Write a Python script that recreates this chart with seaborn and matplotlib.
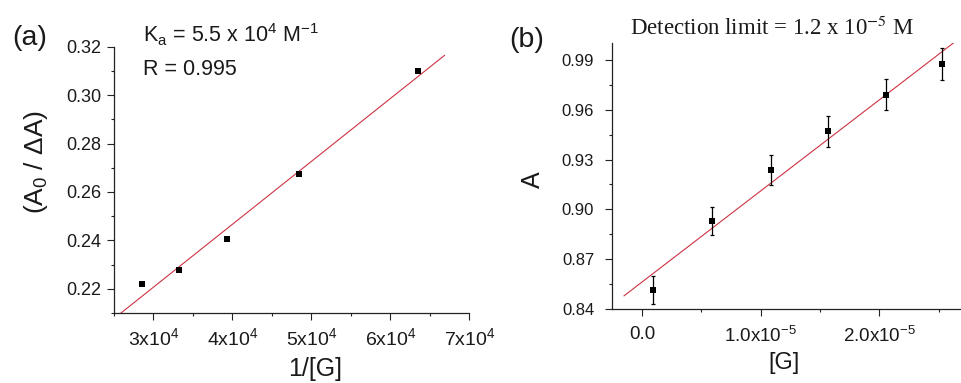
import numpy as np
import pandas as pd
import matplotlib
matplotlib.use("Agg")
import matplotlib.pyplot as plt
import seaborn as sns
from matplotlib.ticker import FixedLocator, MultipleLocator

# ---------------- data ----------------
inv_G = [28600, 33170, 39330, 48480, 63460]
ratio = [0.2218, 0.2276, 0.2404, 0.2675, 0.3098]
fit_range_a = [25000, 66880]

G_conc = [0.093e-5, 0.592e-5, 1.084e-5, 1.567e-5, 2.056e-5, 2.525e-5]
absorb = [0.8514, 0.8929, 0.9237, 0.9469, 0.9690, 0.9878]
abs_err = [0.0085, 0.0086, 0.0090, 0.0093, 0.0094, 0.0096]
fit_range_b = [-0.152e-5, 2.628e-5]

xticks_a = [30000, 40000, 50000, 60000, 70000]
xticklabels_a = ["3x10$^{4}$", "4x10$^{4}$", "5x10$^{4}$", "6x10$^{4}$", "7x10$^{4}$"]
yticks_a = [0.22, 0.24, 0.26, 0.28, 0.30, 0.32]
xticks_b = [0.0, 1.0e-5, 2.0e-5]
xticklabels_b = ["0.0", "1.0x10$^{-5}$", "2.0x10$^{-5}$"]
yticks_b = [0.84, 0.87, 0.90, 0.93, 0.96, 0.99]

# ---------------- style ----------------
sns.set_style("ticks")
plt.rcParams["font.family"] = ["Liberation Sans", "DejaVu Sans"]
plt.rcParams["mathtext.fontset"] = "custom"
plt.rcParams["mathtext.rm"] = "Liberation Sans"
plt.rcParams["mathtext.it"] = "Liberation Sans"
plt.rcParams["mathtext.bf"] = "Liberation Sans"
plt.rcParams["mathtext.sf"] = "Liberation Sans"

TXT = "#1a1a1a"
RED = "#cc3344"
SPINE = "#222222"

fig = plt.figure(figsize=(9.61, 3.83), dpi=100)
W, H = 961, 383
def ax_rect(l, r, t, b):
    return [l / W, 1 - b / H, (r - l) / W, (b - t) / H]

ax1 = fig.add_axes(ax_rect(114, 469.3, 46.7, 313))
ax2 = fig.add_axes(ax_rect(612.3, 961, 43.3, 309))

def style_axis(ax):
    sns.despine(ax=ax)
    for s in ("left", "bottom"):
        ax.spines[s].set_color(SPINE)
        ax.spines[s].set_linewidth(0.9)
    ax.tick_params(which="major", direction="out", length=5, width=0.8, color=SPINE, labelcolor=TXT)
    ax.tick_params(which="minor", direction="out", length=2.5, width=0.8, color=SPINE)
    ax.set_facecolor("white")

# ---------------- panel (a) ----------------
df_a = pd.DataFrame({"x": inv_G, "y": ratio})
slope_a, icpt_a = np.polyfit(inv_G, ratio, 1)
fx_a = np.array(fit_range_a, dtype=float)
df_fa = pd.DataFrame({"x": fx_a, "y": slope_a * fx_a + icpt_a})
sns.lineplot(data=df_fa, x="x", y="y", ax=ax1, color=RED, linewidth=0.8)
sns.scatterplot(data=df_a, x="x", y="y", ax=ax1, marker="s", s=14, color="black",
                edgecolor="black", linewidth=0, zorder=5)
ax1.set_xlim(25000, 70000)
ax1.set_ylim(0.21, 0.32)
style_axis(ax1)
ax1.xaxis.set_major_locator(FixedLocator(xticks_a))
ax1.set_xticklabels(xticklabels_a)
ax1.xaxis.set_minor_locator(MultipleLocator(5000))
ax1.yaxis.set_major_locator(FixedLocator(yticks_a))
ax1.set_yticklabels([f"{v:.2f}" for v in yticks_a])
ax1.yaxis.set_minor_locator(MultipleLocator(0.01))
ax1.tick_params(axis="y", which="major", labelsize=13, pad=4)
ax1.tick_params(axis="x", which="major", labelsize=14, pad=5)
ax1.set_xlabel("1/[G]", fontsize=18, color=TXT)
ax1.set_ylabel("(A$_0$ / ΔA)", fontsize=19, color=TXT)
ax1.xaxis.set_label_coords(0.566, -0.165)
ax1.yaxis.set_label_coords(-0.18, 0.567)
ax1.xaxis.label.set_va("top")

fig.text(12 / W, 1 - 38 / H, "(a)", fontsize=20.5, color=TXT, va="center", ha="left")
fig.text(143 / W, 1 - 42.7 / H, "K$_{a}$ = 5.5 x 10$^{4}$ M$^{-1}$", fontsize=15.5,
         color=TXT, va="baseline", ha="left")
fig.text(143 / W, 1 - 75 / H, "R = 0.995", fontsize=15.5, color=TXT, va="baseline", ha="left")

# ---------------- panel (b) ----------------
df_b = pd.DataFrame({"x": G_conc, "y": absorb, "err": abs_err})
slope_b, icpt_b = np.polyfit(G_conc, absorb, 1)
fx_b = np.array(fit_range_b, dtype=float)
df_fb = pd.DataFrame({"x": fx_b, "y": slope_b * fx_b + icpt_b})
sns.lineplot(data=df_fb, x="x", y="y", ax=ax2, color=RED, linewidth=0.8)
ax2.errorbar(df_b["x"], df_b["y"], yerr=df_b["err"], fmt="none", ecolor="black",
             elinewidth=0.9, capsize=1.6, capthick=0.9, zorder=4)
sns.scatterplot(data=df_b, x="x", y="y", ax=ax2, marker="s", s=14, color="black",
                edgecolor="black", linewidth=0, zorder=5)
ax2.set_xlim(-0.25e-5, 2.688e-5)
ax2.set_ylim(0.84, 1.0)
style_axis(ax2)
ax2.xaxis.set_major_locator(FixedLocator(xticks_b))
ax2.set_xticklabels(xticklabels_b)
ax2.xaxis.set_minor_locator(FixedLocator([0.5e-5, 1.5e-5, 2.5e-5]))
ax2.yaxis.set_major_locator(FixedLocator(yticks_b))
ax2.set_yticklabels([f"{v:.2f}" for v in yticks_b])
ax2.yaxis.set_minor_locator(MultipleLocator(0.015))
ax2.tick_params(axis="y", which="major", labelsize=12, pad=8)
ax2.tick_params(axis="x", which="major", labelsize=13.5, pad=7)
ax2.set_xlabel("[G]", fontsize=17, color=TXT)
ax2.set_ylabel("A", fontsize=18, color=TXT)
ax2.xaxis.set_label_coords(0.4924, -0.162)
ax2.yaxis.set_label_coords(-0.193, 0.4855)
ax2.xaxis.label.set_va("top")

fig.text(509 / W, 1 - 40 / H, "(b)", fontsize=20.5, color=TXT, va="center", ha="left")
fig.text(772.5 / W, 1 - 35 / H, "Detection limit = 1.2 x 10$^{-5}$ M", fontsize=16.5,
         color=TXT, va="baseline", ha="center",
         family=["Liberation Serif", "DejaVu Serif"], math_fontfamily="stix")

fig.savefig("out.png", dpi=100, facecolor="white")
